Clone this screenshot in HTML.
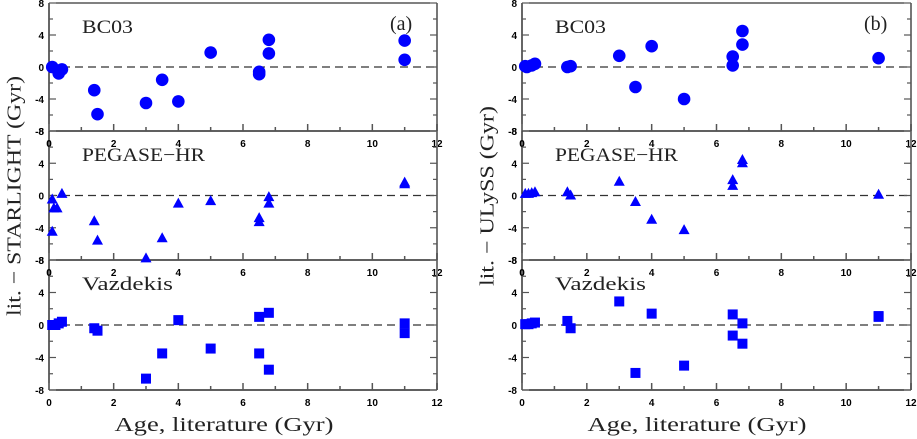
<!DOCTYPE html>
<html><head><meta charset="utf-8"><style>
html,body{margin:0;padding:0;background:#fff;width:917px;height:439px;overflow:hidden}
svg text{font-family:"Liberation Sans",sans-serif}
.ser{font-family:"Liberation Serif",serif}
</style></head><body>
<svg id="chart" width="917" height="439" viewBox="0 0 917 439" xmlns="http://www.w3.org/2000/svg"></svg>
<script>
// ages (x) shared categories per model
const bcAgesL = [0.1,0.3,0.4,1.4,1.5,3,3.5,4,5,6.5,6.5,6.8,6.8,11,11];
const bcValsL = [0,-0.8,-0.3,-2.9,-5.9,-4.5,-1.6,-4.3,1.8,-0.6,-0.9,3.4,1.7,3.3,0.9];
const pgAgesL = [0.1,0.15,0.25,0.4,0.1,1.4,1.5,3,3.5,4,5,6.5,6.5,6.8,6.8,11,11];
const pgValsL = [-0.5,-1.6,-1.6,0.2,-4.5,-3.2,-5.6,-7.8,-5.3,-1.0,-0.7,-2.8,-3.3,-0.2,-1.0,1.6,1.4];
const vzAgesL = [0.1,0.2,0.3,0.4,1.4,1.5,3,3.5,4,5,6.5,6.5,6.8,6.8,11,11];
const vzValsL = [0,0,0.2,0.4,-0.4,-0.7,-6.6,-3.5,0.6,-2.9,1.0,-3.5,1.5,-5.5,0.2,-1.0];
const bcAgesR = [0.1,0.15,0.3,0.4,1.4,1.5,3,3.5,4,5,6.5,6.5,6.8,6.8,11];
const bcValsR = [0.1,0,0.2,0.4,0,0.1,1.4,-2.5,2.6,-4.0,1.3,0.2,4.5,2.8,1.1];
const pgAgesR = [0.1,0.2,0.3,0.4,1.4,1.5,3,3.5,4,5,6.5,6.5,6.8,6.8,11];
const pgValsR = [0.2,0.2,0.3,0.4,0.4,0,1.7,-0.8,-3.0,-4.3,1.9,1.2,4.4,4.0,0.1];
const vzAgesR = [0.1,0.2,0.3,0.4,1.4,1.5,3,3.5,4,5,6.5,6.5,6.8,6.8,11,11];
const vzValsR = [0.1,0.1,0.2,0.3,0.5,-0.4,2.9,-5.9,1.4,-5.0,1.3,-1.3,0.2,-2.3,1.1,1.0];
const xTicks = [0,2,4,6,8,10,12];
const yTicks = [-8,-4,0,4,8];

const NS="http://www.w3.org/2000/svg";
const svg=document.getElementById('chart');
function mk(tag,attrs,parent){const e=document.createElementNS(NS,tag);for(const k in attrs)e.setAttribute(k,attrs[k]);(parent||svg).appendChild(e);return e;}
const rows=[[3,131],[131,260],[260,390]];
const cols=[[49,437],[522,911]];
function xs(c,v){return cols[c][0]+(cols[c][1]-cols[c][0])*v/12;}
function ys(r,v){return rows[r][1]-(rows[r][1]-rows[r][0])*(v+8)/16;}
const names=['bc03','pegase-hr','vazdekis'];
const labels=['BC03','PEGASE\u2212HR','Vazdekis'];
const labelLen=[51,123,91];
const data=[[[bcAgesL,bcValsL],[pgAgesL,pgValsL],[vzAgesL,vzValsL]],[[bcAgesR,bcValsR],[pgAgesR,pgValsR],[vzAgesR,vzValsR]]];
const side=['starlight','ulyss'];
for(let c=0;c<2;c++){
 for(let r=0;r<3;r++){
  const g=mk('g',{});
  
  
  const x0=cols[c][0],x1=cols[c][1],y0=rows[r][0],y1=rows[r][1];
  mk('line',{x1:x0,y1:y0,x2:x0,y2:y1,stroke:'#000','stroke-width':1.2},g);
  mk('line',{x1:x1,y1:y0,x2:x1,y2:y1,stroke:'#777','stroke-width':2},g);
  mk('line',{x1:x0,y1:y1,x2:x1,y2:y1,stroke:'#000','stroke-width':1.2},g);
  if(r===0) mk('line',{x1:x0,y1:y0,x2:x1,y2:y0,stroke:'#000','stroke-width':1},g);
  const z=mk('line',{x1:x0,y1:ys(r,0),x2:x1,y2:ys(r,0),stroke:'#333','stroke-width':1.2,'stroke-dasharray':'8,5'},g);
  
  
  for(let v=0;v<=12;v++){
   const len=v%2===0?7:4;
   mk('line',{x1:xs(c,v),y1:y1,x2:xs(c,v),y2:y1-len,stroke:'#555','stroke-width':1.5},g);
  }
  for(let v=-8;v<=8;v+=2){
   const len=v%4===0?7:4;
   mk('line',{x1:x0,y1:ys(r,v),x2:x0+len,y2:ys(r,v),stroke:'#555','stroke-width':1.2},g);
   mk('line',{x1:x1,y1:ys(r,v),x2:x1-len,y2:ys(r,v),stroke:'#555','stroke-width':1.2},g);
  }
  xTicks.forEach(v=>{const t=mk('text',{x:xs(c,v),y:y1+16,'font-size':10,'font-weight':'bold','text-anchor':'middle',fill:'#000'},g);t.textContent=v;});
  yTicks.forEach(v=>{const t=mk('text',{x:x0-5,y:ys(r,v)+4,'font-size':10,'font-weight':'bold','text-anchor':'end',fill:'#000'},g);t.textContent=v;});
  const lb=mk('text',{x:x0+33,y:y0+30,'font-size':19,fill:'#222','class':'ser',textLength:labelLen[r],lengthAdjust:'spacingAndGlyphs'},g);
  lb.textContent=labels[r];
  
  
  const [ag,vl]=data[c][r];
  for(let i=0;i<ag.length;i++){
   const px=xs(c,ag[i]),py=ys(r,vl[i]);
   let m;
   if(r===0) m=mk('circle',{cx:px,cy:py,r:6.3,fill:'#0000ff'},g);
   else if(r===1) m=mk('polygon',{points:`${px},${py-6} ${px-5.5},${py+4} ${px+5.5},${py+4}`,fill:'#0000ff'},g);
   else m=mk('rect',{x:px-5,y:py-5,width:10,height:10,fill:'#0000ff'},g);
   
   
  }
 }
 const cx=c===0?224:697;
 const at=mk('text',{x:cx,y:431,'font-size':20,'text-anchor':'middle',fill:'#222','class':'ser',textLength:219,lengthAdjust:'spacingAndGlyphs'});
 at.textContent='Age, literature (Gyr)';
 
 
 const yx=c===0?16:489;
 const yt=mk('text',{x:yx,y:196,'font-size':20,'text-anchor':'middle',fill:'#222','class':'ser',transform:`rotate(-90 ${yx} 196)`,'dominant-baseline':'middle',textLength:c===0?240:180,lengthAdjust:'spacingAndGlyphs'});
 yt.textContent=c===0?'lit. \u2212 STARLIGHT (Gyr)':'lit. \u2212 ULySS (Gyr)';
 
 
 const pl=mk('text',{x:c===0?390:864,y:30,'font-size':20,fill:'#222','class':'ser'});
 pl.textContent=c===0?'(a)':'(b)';
 
 
}
</script>
</body></html>
